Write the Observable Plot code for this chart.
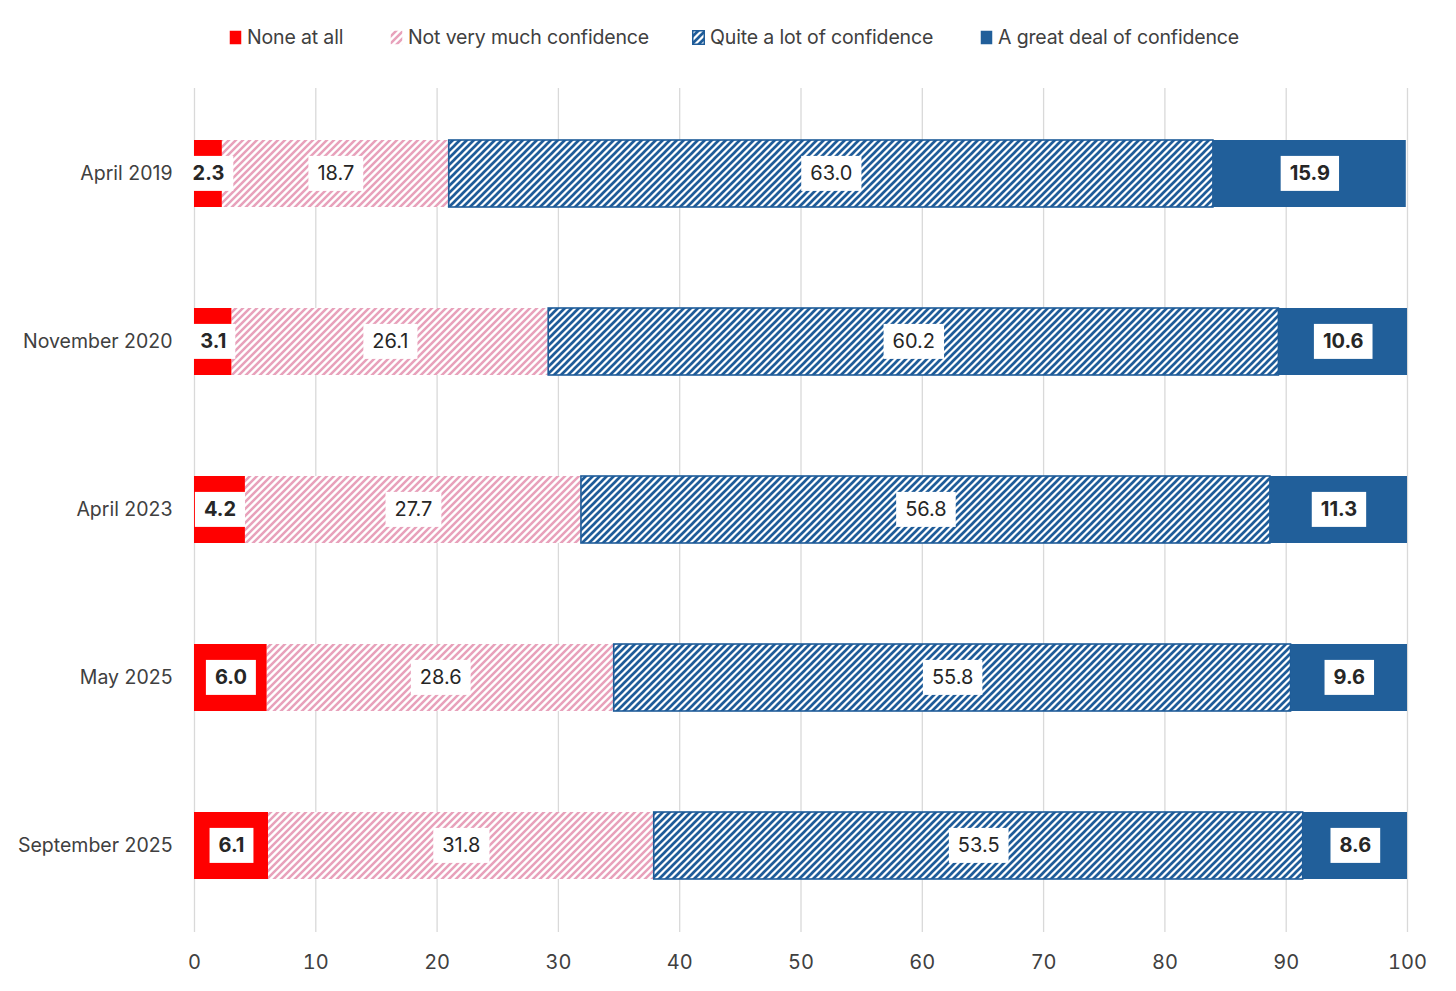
<!DOCTYPE html>
<html>
<head>
<meta charset="utf-8">
<script src="https://cdn.jsdelivr.net/npm/d3@7"></script>
<script src="https://cdn.jsdelivr.net/npm/@observablehq/plot@0.6"></script>
<style>
  body { margin: 0; background: #fff; font-family: Inter, "Noto Sans", sans-serif; }
  #legend { position: relative; height: 75px; width: 1456px; }
  .item { position: absolute; top: 25px; height: 24px; display: flex; align-items: center; font-size: 19.5px; color: #404040; white-space: nowrap; letter-spacing: -0.15px; }
  .item svg { margin-right: 5px; }
  #defs { position: absolute; width: 0; height: 0; overflow: hidden; }
</style>
</head>
<body>
<svg id="defs" width="0" height="0">
  <defs>
    <pattern id="pinkHatch" patternUnits="userSpaceOnUse" width="7" height="7">
      <rect width="7" height="7" fill="#fff"/>
      <path d="M-1,1 l2,-2 M0,7 l7,-7 M6,8 l2,-2" stroke="#E8A1BB" stroke-width="2.5"/>
    </pattern>
    <pattern id="blueHatch" patternUnits="userSpaceOnUse" width="7" height="7">
      <rect width="7" height="7" fill="#fff"/>
      <path d="M-1,1 l2,-2 M0,7 l7,-7 M6,8 l2,-2" stroke="#1F5C99" stroke-width="2.7"/>
    </pattern>
  </defs>
</svg>
<div id="legend"></div>
<div id="chart"></div>
<script>
const periods = ["April 2019", "November 2020", "April 2023", "May 2025", "September 2025"];
const series = ["None at all", "Not very much confidence", "Quite a lot of confidence", "A great deal of confidence"];
const noneAtAll = [2.3, 3.1, 4.2, 6.0, 6.1];
const notVeryMuch = [18.7, 26.1, 27.7, 28.6, 31.8];
const quiteALot = [63.0, 60.2, 56.8, 55.8, 53.5];
const greatDeal = [15.9, 10.6, 11.3, 9.6, 8.6];
const xTicks = [0, 10, 20, 30, 40, 50, 60, 70, 80, 90, 100];

const values = [noneAtAll, notVeryMuch, quiteALot, greatDeal];
const fills = ["#FF0000", "url(#pinkHatch)", "url(#blueHatch)", "#215F9A"];
const strokes = ["none", "none", "#1F5C99", "none"];
const boldSeries = [true, false, false, true];

// build stacked rows
const rows = [];
periods.forEach((p, i) => {
  let acc = 0;
  series.forEach((s, j) => {
    const v = values[j][i];
    rows.push({period: p, series: s, j, value: v, x1: acc, x2: acc + v, mid: acc + v / 2});
    acc += v;
  });
});

// legend
const legendX = [229, 390, 692, 980];
const legend = document.getElementById("legend");
series.forEach((s, j) => {
  const div = document.createElement("div");
  div.className = "item";
  div.style.left = legendX[j] + "px";
  div.innerHTML = `<svg width="13" height="15"><rect x="0.75" y="0.75" width="11.5" height="13.5" fill="${fills[j]}" stroke="${strokes[j]}" stroke-width="1.5"/></svg><span>${s}</span>`;
  legend.appendChild(div);
});

const marks = [
  Plot.gridX(xTicks, {stroke: "#d9d9d9", strokeOpacity: 1, strokeWidth: 1.3}),
  ...series.map((s, j) => Plot.barX(rows.filter(r => r.j === j), {
    x1: "x1", x2: "x2", y: "period",
    fill: fills[j], stroke: strokes[j], strokeWidth: 1.6
  })),
  Plot.text(rows.filter(r => !boldSeries[r.j]), {
    x: "mid", y: "period", text: d => d.value.toFixed(1),
    fill: "#262626", fontSize: 20, fontWeight: 400
  }),
  Plot.text(rows.filter(r => boldSeries[r.j]), {
    x: "mid", y: "period", text: d => d.value.toFixed(1),
    fill: "#262626", fontSize: 20, fontWeight: 700
  }),
  Plot.axisX(xTicks, {tickSize: 0, tickPadding: 22, fontSize: 20, fill: "#404040", label: null}),
  Plot.axisY({tickSize: 0, tickPadding: 22, fontSize: 19.5, fill: "#404040", label: null})
];

const chart = Plot.plot({
  width: 1456,
  height: 916,
  marginTop: 13,
  marginBottom: 59,
  marginLeft: 194,
  marginRight: 49,
  style: {fontFamily: 'Inter, "Noto Sans", sans-serif', fontSize: "20px", color: "#404040", background: "#fff"},
  x: {domain: [0, 100]},
  y: {domain: periods, paddingInner: 0.6, paddingOuter: 0.3},
  marks
});
document.getElementById("chart").appendChild(chart);

// white boxes behind data labels
chart.querySelectorAll('g[aria-label="text"] text').forEach(t => {
  const b = t.getBBox();
  const r = document.createElementNS("http://www.w3.org/2000/svg", "rect");
  const padX = 9, h = 35;
  r.setAttribute("x", b.x - padX);
  r.setAttribute("y", b.y + b.height / 2 - h / 2);
  r.setAttribute("width", b.width + 2 * padX);
  r.setAttribute("height", h);
  r.setAttribute("fill", "#fff");
  const tr = t.getAttribute("transform");
  if (tr) r.setAttribute("transform", tr);
  t.parentNode.insertBefore(r, t);
});
</script>
</body>
</html>
